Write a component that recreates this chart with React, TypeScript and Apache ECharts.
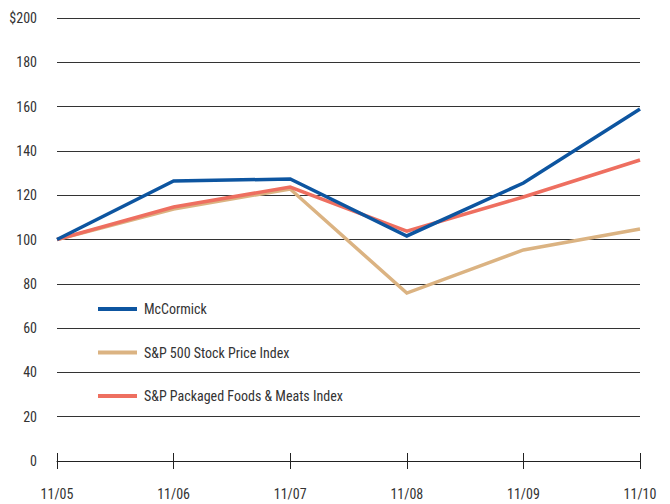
import React, { useEffect, useRef } from "react";
import * as echarts from "echarts";

const categories = ["11/05", "11/06", "11/07", "11/08", "11/09", "11/10"];
const mccormick = [100, 126.4, 127.3, 101.6, 125.5, 158.9];
const sp500 = [100, 113.8, 122.8, 75.8, 95.3, 104.7];
const packagedFoods = [100, 114.7, 123.7, 103.8, 119.2, 135.9];
const seriesNames = ["McCormick", "S&P 500 Stock Price Index", "S&P Packaged Foods & Meats Index"];

const FONT = "'Liberation Sans Narrow', 'Roboto Condensed', Roboto, sans-serif";

export default function App() {
  const ref = useRef<HTMLDivElement>(null);
  useEffect(() => {
    if (!ref.current) return;
    const chart = echarts.init(ref.current, null, { renderer: "svg" });
    const lineStyle = (color: string) => ({ color, width: 3.5, cap: "butt" as const, join: "miter" as const });
    chart.setOption({
      animation: false,
      grid: { left: 57, right: 30, top: 18, bottom: 43 },
      legend: {
        orient: "vertical",
        left: 93,
        top: 297,
        itemWidth: 39,
        itemHeight: 4,
        itemGap: 29.5,
        icon: "rect",
        textStyle: { fontFamily: FONT, fontSize: 14, color: "#333", padding: [0, 0, 0, 2] },
        data: seriesNames,
      },
      xAxis: [
        {
          type: "category",
          data: categories,
          boundaryGap: false,
          axisLine: { lineStyle: { color: "#222", width: 1 } },
          axisTick: { show: true, length: 8, inside: false, lineStyle: { color: "#222" } },
          axisLabel: { fontFamily: FONT, fontSize: 14, color: "#333", margin: 26 },
        },
        {
          type: "category",
          data: categories,
          boundaryGap: false,
          position: "bottom",
          axisLine: { show: false },
          axisTick: { show: true, length: 8, inside: true, lineStyle: { color: "#222" } },
          axisLabel: { show: false },
        },
      ],
      yAxis: {
        type: "value",
        min: 0,
        max: 200,
        interval: 20,
        axisLine: { show: false },
        axisTick: { show: false },
        splitLine: { lineStyle: { color: "#333", width: 1 } },
        axisLabel: {
          fontFamily: FONT,
          fontSize: 14,
          color: "#333",
          margin: 20,
          formatter: (v: number) => (v === 200 ? "$200" : String(v)),
        },
      },
      series: [
        {
          name: seriesNames[1],
          type: "line",
          data: sp500,
          symbol: "none",
          lineStyle: lineStyle("#dbb382"),
          itemStyle: { color: "#dbb382" },
          z: 2,
        },
        {
          name: seriesNames[2],
          type: "line",
          data: packagedFoods,
          symbol: "none",
          lineStyle: lineStyle("#ee6f60"),
          itemStyle: { color: "#ee6f60" },
          z: 3,
        },
        {
          name: seriesNames[0],
          type: "line",
          data: mccormick,
          symbol: "none",
          lineStyle: lineStyle("#0d55a0"),
          itemStyle: { color: "#0d55a0" },
          z: 4,
        },
      ],
    });
    return () => chart.dispose();
  }, []);
  return <div ref={ref} style={{ width: 670, height: 504, position: "absolute", left: 0, top: 0, background: "#fff" }} />;
}
